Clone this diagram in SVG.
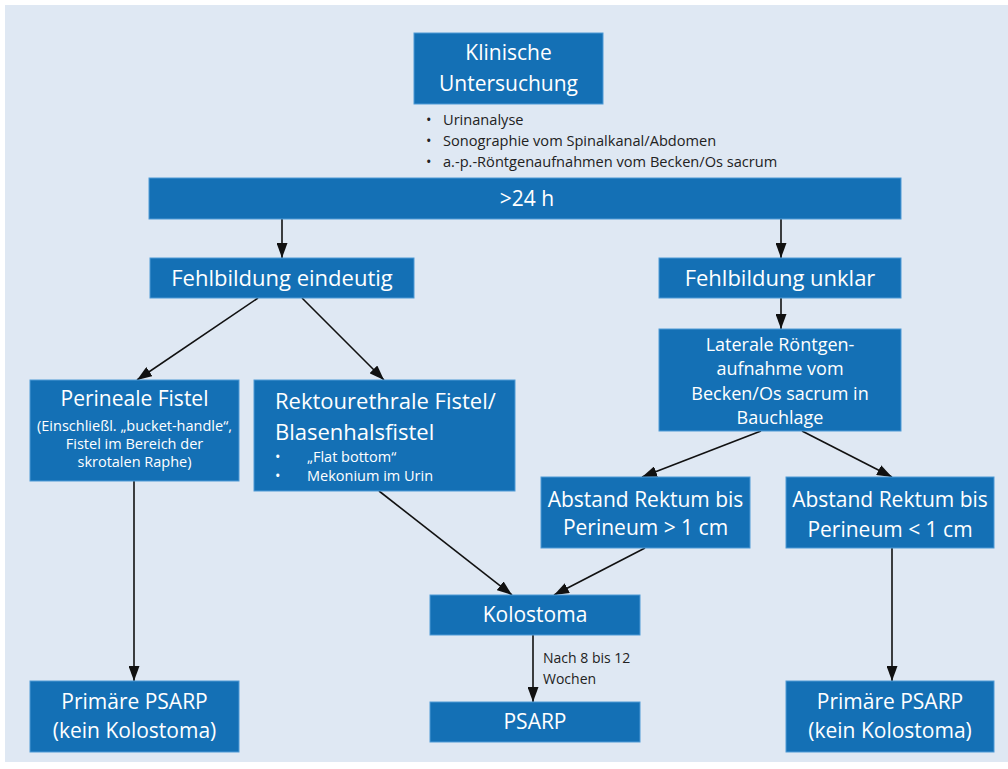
<svg xmlns="http://www.w3.org/2000/svg" width="1008" height="769" viewBox="0 0 1008 769">
<defs>
<style>
.bg{fill:#dfe8f3}
.box{fill:#1470b5;stroke:#4f9ad6;stroke-width:1}
.t{font-family:"Open Sans","Liberation Sans",sans-serif;fill:#ffffff;text-anchor:middle}
.st{text-anchor:start}
.l{font-size:21px}
.xl{font-size:22px}
.m{font-size:18px}
.s{font-size:14.5px}
.dk{font-family:"Open Sans","Liberation Sans",sans-serif;fill:#222;font-size:14px}
.bl{font-family:"Open Sans","Liberation Sans",sans-serif;fill:#222;font-size:14.6px}
.edge{stroke:#111;stroke-width:1.6;fill:none;marker-end:url(#ah)}
</style>
<marker id="ah" markerUnits="userSpaceOnUse" markerWidth="15" markerHeight="11" refX="15" refY="5.5" orient="auto">
<path d="M0,0 L15,5.5 L0,11 z" fill="#111"/>
</marker>
</defs>
<rect class="bg" x="5" y="5" width="1003" height="757"/>

<g id="connectors">
<line class="edge" x1="282" y1="219" x2="282" y2="258"/>
<line class="edge" x1="781" y1="219" x2="781" y2="258"/>
<line class="edge" x1="781" y1="298" x2="781" y2="329"/>
<line class="edge" x1="258" y1="298" x2="137" y2="380"/>
<line class="edge" x1="302" y1="298" x2="384" y2="380"/>
<line class="edge" x1="134" y1="481" x2="134" y2="681"/>
<line class="edge" x1="379" y1="491" x2="512" y2="595"/>
<line class="edge" x1="761" y1="431" x2="642" y2="477"/>
<line class="edge" x1="802" y1="431" x2="892" y2="477"/>
<line class="edge" x1="645" y1="548" x2="554" y2="595"/>
<line class="edge" x1="892" y1="548" x2="892" y2="681"/>
<line class="edge" x1="533" y1="635" x2="533" y2="702"/>
<text class="dk" x="543" y="663">Nach 8 bis 12</text>
<text class="dk" x="543" y="684">Wochen</text>
</g>

<g id="n-klinisch">
<rect class="box" x="414" y="33" width="189" height="71"/>
<text class="t l" x="508.5" y="60">Klinische</text>
<text class="t l" x="508.5" y="91">Untersuchung</text>
</g>

<g id="n-bullets" class="bl">
<text x="426" y="125">•</text><text x="443" y="125">Urinanalyse</text>
<text x="426" y="146">•</text><text x="443" y="146">Sonographie vom Spinalkanal/Abdomen</text>
<text x="426" y="167">•</text><text x="443" y="167">a.-p.-Röntgenaufnahmen vom Becken/Os sacrum</text>
</g>

<g id="n-24h">
<rect class="box" x="149" y="178" width="752" height="41"/>
<text class="t l" x="527" y="206">&gt;24 h</text>
</g>

<g id="n-eindeutig">
<rect class="box" x="150" y="258" width="264" height="40"/>
<text class="t xl" x="282" y="286">Fehlbildung eindeutig</text>
</g>

<g id="n-unklar">
<rect class="box" x="659" y="258" width="242" height="40"/>
<text class="t xl" x="780" y="286">Fehlbildung unklar</text>
</g>

<g id="n-lateral">
<rect class="box" x="659" y="329" width="242" height="102"/>
<text class="t m" x="780" y="351">Laterale Röntgen-</text>
<text class="t m" x="780" y="375">aufnahme vom</text>
<text class="t m" x="780" y="400">Becken/Os sacrum in</text>
<text class="t m" x="780" y="424">Bauchlage</text>
</g>

<g id="n-perineal">
<rect class="box" x="30" y="380" width="209" height="101"/>
<text class="t l" x="134.5" y="406">Perineale Fistel</text>
<text class="t s" x="134.5" y="431">(Einschließl. „bucket-handle“,</text>
<text class="t s" x="134.5" y="449">Fistel im Bereich der</text>
<text class="t s" x="134.5" y="467">skrotalen Raphe)</text>
</g>

<g id="n-rekto">
<rect class="box" x="254" y="380" width="261" height="111"/>
<text class="t xl st" x="275" y="409">Rektourethrale Fistel/</text>
<text class="t xl st" x="275" y="440">Blasenhalsfistel</text>
<text class="t s st" x="275" y="462">•</text>
<text class="t s st" x="307" y="462">„Flat bottom“</text>
<text class="t s st" x="275" y="481">•</text>
<text class="t s st" x="307" y="481">Mekonium im Urin</text>
</g>

<g id="n-abstand-gt">
<rect class="box" x="541" y="477" width="209" height="71"/>
<text class="t l" x="645.5" y="507">Abstand Rektum bis</text>
<text class="t l" x="645.5" y="535">Perineum &gt; 1 cm</text>
</g>

<g id="n-abstand-lt">
<rect class="box" x="786" y="477" width="208" height="71"/>
<text class="t l" x="890" y="507">Abstand Rektum bis</text>
<text class="t l" x="890" y="537">Perineum &lt; 1 cm</text>
</g>

<g id="n-kolostoma">
<rect class="box" x="430" y="595" width="210" height="40"/>
<text class="t l" x="535" y="622">Kolostoma</text>
</g>

<g id="n-psarp">
<rect class="box" x="430" y="702" width="210" height="40"/>
<text class="t l" x="535" y="729">PSARP</text>
</g>

<g id="n-primaer-left">
<rect class="box" x="30" y="681" width="209" height="71"/>
<text class="t l" x="134.5" y="709">Primäre PSARP</text>
<text class="t l" x="134.5" y="738">(kein Kolostoma)</text>
</g>

<g id="n-primaer-right">
<rect class="box" x="786" y="681" width="208" height="71"/>
<text class="t l" x="890" y="709">Primäre PSARP</text>
<text class="t l" x="890" y="738">(kein Kolostoma)</text>
</g>
</svg>
